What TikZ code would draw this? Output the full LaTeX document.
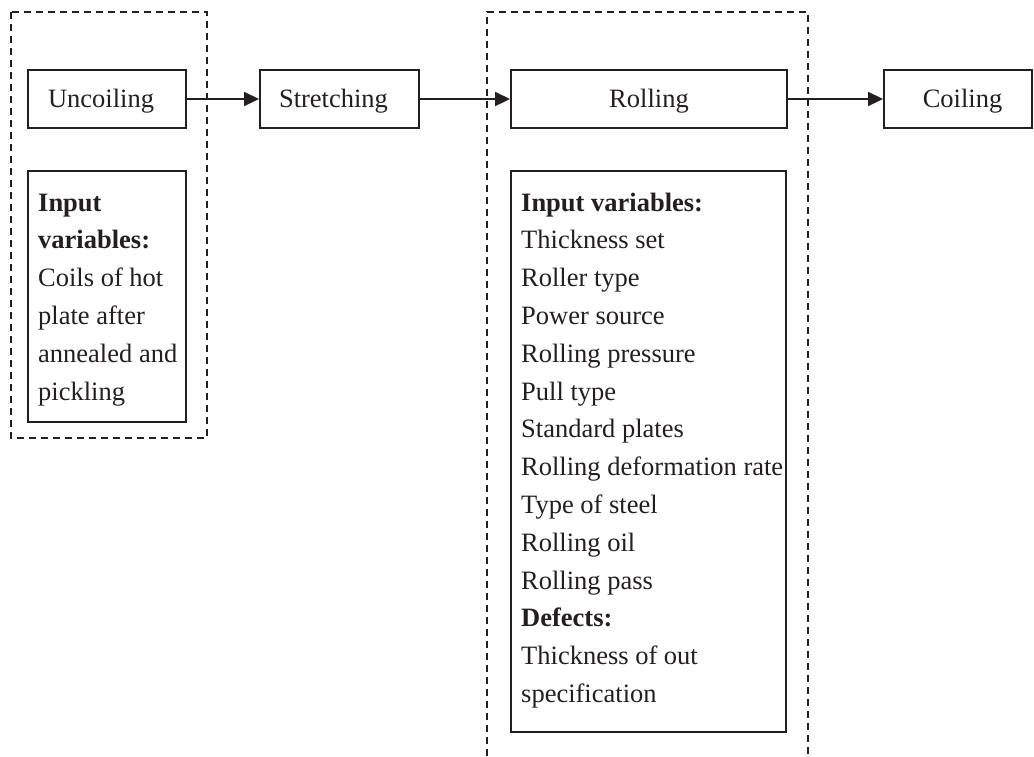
\documentclass[tikz,border=0pt]{standalone}
\usepackage{fontspec}
\setmainfont{Liberation Serif}
\usetikzlibrary{arrows.meta}
\definecolor{ink}{RGB}{35,31,32}
\begin{document}
\begin{tikzpicture}[x=1pt,y=-1pt,
  every node/.style={text=ink},
  stagebox/.style={draw=ink, line width=1.9pt, rectangle, inner sep=0pt,
    minimum height=58pt, text height=19pt, text depth=3pt,
    font=\fontsize{26.5}{32}\selectfont},
  infobox/.style={draw=ink, line width=1.9pt, rectangle, inner sep=0pt},
  infotext/.style={anchor=base west, inner sep=0pt, align=left,
    font=\fontsize{26.5}{37.8}\selectfont},
  frame/.style={draw=ink, line width=1.7pt, dash pattern=on 7pt off 5pt},
  flow/.style={draw=ink, line width=1.8pt, -{Triangle[length=15pt,width=14pt]}}
]
\useasboundingbox (0,0) rectangle (1034,756);

% dashed frames
\draw[frame] (11,12) rectangle (207,438);
\draw[frame] (487,756) -- (487,12) -- (808,12) -- (808,756);

% stage boxes
\node[stagebox, minimum width=158pt] (unc) at (107,99) {Uncoiling\kern12pt};
\node[stagebox, minimum width=159pt] (str) at (339.5,99) {Stretching\kern12pt};
\node[stagebox, minimum width=276pt] (rol) at (649,99) {Rolling};
\node[stagebox, minimum width=148pt] (coi) at (958,99) {\kern9pt Coiling};

% input boxes
\node[infobox, minimum width=158pt, minimum height=251pt] (in1) at (107,296.5) {};
\node[infobox, minimum width=275pt, minimum height=561pt] (in2) at (648.5,451.5) {};

\node[infotext] (t1) at (38,400) {\textbf{Input}\\\textbf{variables:}\\Coils of hot\\plate after\\annealed and\\pickling};
\node[infotext] (t2) at (521,702.4) {\textbf{Input variables:}\\Thickness set\\Roller type\\Power source\\Rolling pressure\\Pull type\\Standard plates\\Rolling deformation rate\\Type of steel\\Rolling oil\\Rolling pass\\\textbf{Defects:}\\Thickness of out\\specification};

% connectors
\draw[flow] (unc.east) -- (str.west);
\draw[flow] (str.east) -- (rol.west);
\draw[flow] (rol.east) -- (coi.west);
\end{tikzpicture}
\end{document}
